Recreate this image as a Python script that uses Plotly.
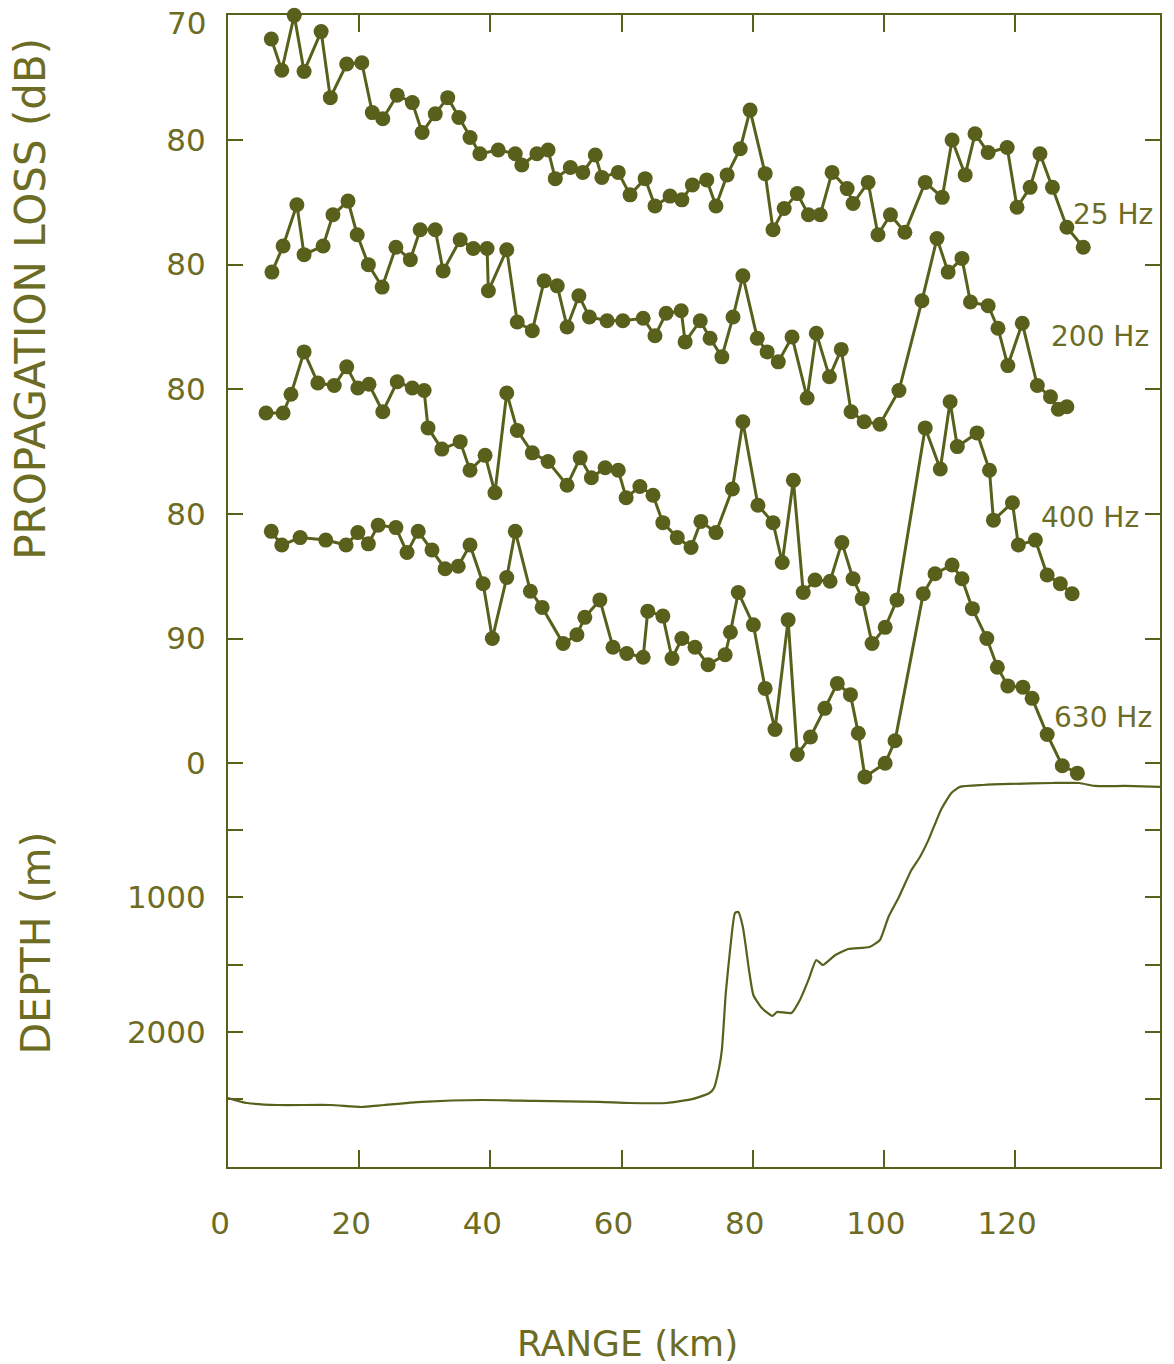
import plotly.graph_objects as go

# ---------------- data ----------------
range_25 = [6.6, 8.2, 10.1, 11.6, 14.2, 15.6, 18.1, 20.4, 22.0, 23.6, 25.8, 28.1, 29.6, 31.6, 33.5, 35.2,
            36.9, 38.4, 41.2, 43.8, 44.8, 47.1, 48.8, 49.9, 52.2, 54.1, 56.0, 57.0, 59.5, 61.3, 63.6, 65.1,
            67.4, 69.2, 70.8, 73.0, 74.4, 76.1, 78.1, 79.6, 81.9, 83.1, 84.8, 86.8, 88.5, 90.3, 92.1, 94.4,
            95.3, 97.6, 99.1, 101.0, 103.2, 106.3, 108.9, 110.4, 112.4, 113.9, 115.9, 118.8, 120.3, 122.3,
            123.8, 125.7, 127.9, 130.4]
loss_25 = [71.9, 74.4, 70.0, 74.5, 71.3, 76.6, 73.9, 73.8, 77.8, 78.3, 76.4, 77.0, 79.4, 77.9, 76.6, 78.2,
           79.8, 81.1, 80.8, 81.1, 82.0, 81.1, 80.8, 83.1, 82.2, 82.6, 81.2, 83.0, 82.6, 84.4, 83.1, 85.3,
           84.5, 84.8, 83.6, 83.2, 85.3, 82.8, 80.7, 77.6, 82.7, 87.2, 85.5, 84.3, 86.0, 86.0, 82.6, 83.9,
           85.1, 83.4, 87.6, 86.0, 87.4, 83.4, 84.6, 80.0, 82.8, 79.5, 81.0, 80.6, 85.4, 83.8, 81.1, 83.8,
           87.0, 88.6]

range_200 = [6.7, 8.4, 10.5, 11.6, 14.5, 16.0, 18.3, 19.7, 21.4, 23.5, 25.6, 27.8, 29.3, 31.6, 32.8, 35.4,
             37.4, 39.5, 39.7, 42.5, 44.1, 46.4, 48.2, 50.2, 51.7, 53.5, 55.1, 57.8, 60.2, 63.3, 65.1, 66.8,
             69.1, 69.7, 72.0, 73.5, 75.3, 77.0, 78.5, 80.7, 82.2, 83.9, 86.0, 88.3, 89.7, 91.7, 93.5, 95.0,
             97.0, 99.4, 102.3, 105.8, 108.1, 109.8, 111.9, 113.2, 115.9, 117.4, 118.9, 121.1, 123.4, 125.4,
             126.6, 127.9]
loss_200 = [80.6, 78.5, 75.2, 79.2, 78.5, 76.0, 74.9, 77.6, 80.0, 81.8, 78.6, 79.6, 77.2, 77.2, 80.5, 78.0,
            78.7, 78.7, 82.1, 78.8, 84.6, 85.3, 81.3, 81.7, 85.0, 82.5, 84.2, 84.5, 84.5, 84.3, 85.7, 83.9,
            83.7, 86.2, 84.5, 85.9, 87.4, 84.2, 80.9, 85.9, 87.0, 87.8, 85.8, 90.7, 85.5, 89.0, 86.8, 91.8,
            92.6, 92.8, 90.1, 82.9, 77.9, 80.6, 79.5, 83.0, 83.3, 85.1, 88.1, 84.7, 89.7, 90.6, 91.6, 91.4]

range_400 = [5.8, 8.4, 9.6, 11.6, 13.7, 16.2, 18.1, 19.8, 21.5, 23.6, 25.8, 28.1, 29.9, 30.5, 32.6, 35.4,
             36.9, 39.2, 40.7, 42.5, 44.1, 46.4, 48.8, 51.7, 53.7, 55.4, 57.5, 59.5, 60.7, 62.8, 64.8, 66.3,
             68.5, 70.6, 72.1, 74.4, 76.9, 78.5, 80.8, 83.1, 84.5, 86.2, 87.7, 89.5, 91.8, 93.6, 95.3, 96.7,
             98.2, 100.2, 102.0, 106.3, 108.6, 110.1, 111.2, 114.2, 116.1, 116.7, 119.6, 120.5, 123.1, 124.9,
             126.9, 128.7]
loss_400 = [81.9, 81.9, 80.4, 77.0, 79.5, 79.7, 78.2, 79.9, 79.6, 81.8, 79.4, 79.9, 80.1, 83.1, 84.8, 84.2,
            86.5, 85.3, 88.3, 80.3, 83.3, 85.1, 85.8, 87.7, 85.5, 87.1, 86.3, 86.5, 88.7, 87.8, 88.5, 90.7,
            91.9, 92.7, 90.6, 91.5, 88.0, 82.6, 89.3, 90.7, 93.9, 87.3, 96.3, 95.3, 95.4, 92.3, 95.2, 96.8,
            100.4, 99.1, 96.9, 83.1, 86.4, 81.0, 84.6, 83.5, 86.5, 90.5, 89.1, 92.5, 92.1, 94.9, 95.6, 96.4]

range_630 = [6.6, 8.2, 11.0, 14.9, 18.0, 19.8, 21.4, 22.9, 25.6, 27.3, 29.0, 31.1, 33.1, 35.1, 36.9, 38.9,
             40.3, 42.5, 43.8, 46.1, 47.9, 51.1, 53.2, 54.4, 56.7, 58.7, 60.8, 63.3, 64.0, 66.3, 67.7, 69.2,
             71.2, 73.2, 75.8, 76.6, 77.8, 80.1, 81.9, 83.4, 85.4, 86.8, 88.8, 91.0, 92.9, 94.9, 96.1, 97.1,
             100.2, 101.7, 106.0, 107.8, 110.4, 111.9, 113.5, 115.7, 117.3, 118.9, 121.2, 122.6, 124.9,
             127.2, 129.5]
loss_630 = [81.4, 82.5, 81.9, 82.1, 82.5, 81.5, 82.4, 80.9, 81.1, 83.1, 81.4, 82.9, 84.4, 84.2, 82.5, 85.6,
            90.0, 85.1, 81.4, 86.2, 87.5, 90.4, 89.7, 88.3, 86.9, 90.7, 91.2, 91.5, 87.8, 88.2, 91.6, 90.0,
            90.7, 92.1, 91.3, 89.5, 86.3, 88.9, 94.0, 97.3, 88.5, 99.3, 97.9, 95.6, 93.6, 94.5, 97.6, 101.1,
            100.0, 98.2, 86.4, 84.8, 84.1, 85.2, 87.6, 90.0, 92.3, 93.8, 93.9, 94.8, 97.7, 100.2, 100.8]

depth_range = [0, 2.9, 7.5, 15.6, 20.3, 23.8, 29.6, 38.7, 46.8, 56.6, 61.2, 66.9, 70.9, 73.4, 74.1, 74.9,
               75.3, 75.9, 76.6, 77.3, 77.8, 78.5, 79.5, 80.1, 81.4, 83.0, 83.7, 85.9, 87.2, 88.5, 89.7, 90.7,
               92.6, 94.6, 97.8, 99.4, 100.7, 102.3, 104.2, 105.5, 106.8, 108.7, 110.3, 111.6, 115.1, 119.3,
               125.7, 129.8, 132.1, 136.8, 142.1]
depth_m = [2491, 2528, 2543, 2543, 2558, 2543, 2520, 2506, 2513, 2520, 2528, 2528, 2498, 2454, 2416, 2260,
           2134, 1710, 1368, 1115, 1108, 1219, 1561, 1725, 1822, 1881, 1851, 1859, 1762, 1613, 1465, 1502,
           1428, 1383, 1368, 1316, 1145, 996, 796, 699, 572, 349, 223, 178, 164, 156, 149, 149, 171, 171, 178]

freq_labels = ["25 Hz", "200 Hz", "400 Hz", "630 Hz"]
# vertical offsets (dB) used to stack the four curves
offsets = [0, 10, 20, 30]

top_label = "70"
loss_tickvals = [70, 80, 90, 100, 110, 120]
loss_ticktext = ["", "80", "80", "80", "80", "90"]
depth_tickvals = [0, 500, 1000, 1500, 2000, 2500]
depth_ticktext = ["0", "", "1000", "", "2000", ""]
range_tickvals = [0, 20, 40, 60, 80, 100, 120]
range_ticktext = ["0", "20", "40", "60", "80", "100", "120"]

# ---------------- style ----------------
INK = "#58601c"
TEXT = "#6d6c24"
FONT = "DejaVu Sans"

fig = go.Figure()

series = [(range_25, loss_25), (range_200, loss_200), (range_400, loss_400), (range_630, loss_630)]
for (xs, ys), off, name in zip(series, offsets, freq_labels):
    fig.add_trace(go.Scatter(
        x=xs, y=[v + off for v in ys], mode="lines+markers", name=name,
        line=dict(color=INK, width=3),
        marker=dict(color=INK, size=15),
        cliponaxis=False, yaxis="y", showlegend=False))

fig.add_trace(go.Scatter(
    x=depth_range, y=depth_m, mode="lines", name="depth",
    line=dict(color=INK, width=2.2, shape="spline", smoothing=0.5),
    yaxis="y2", showlegend=False))

# label positions (km, stacked dB)
label_pos = [(135.0, 86.0), (133.0, 95.8), (131.5, 110.3), (133.4, 126.3)]
for (lx, ly), txt in zip(label_pos, freq_labels):
    fig.add_annotation(x=lx, y=ly, xref="x", yref="y", text=txt, showarrow=False,
                       xanchor="center", yanchor="middle",
                       font=dict(family=FONT, size=28, color=TEXT))

# "70" label at the top corner, nudged down slightly so it stays on the page
fig.add_annotation(x=-0.0215, y=0.993, xref="paper", yref="paper", text=top_label,
                   showarrow=False, xanchor="right", yanchor="middle",
                   font=dict(family=FONT, size=31, color=TEXT))

fig.add_annotation(x=-0.212, y=0.754, xref="paper", yref="paper", text="PROPAGATION LOSS (dB)",
                   textangle=-90, showarrow=False, xanchor="center", yanchor="middle",
                   font=dict(family=FONT, size=42, color=TEXT))
fig.add_annotation(x=-0.207, y=0.194, xref="paper", yref="paper", text="DEPTH (m)",
                   textangle=-90, showarrow=False, xanchor="center", yanchor="middle",
                   font=dict(family=FONT, size=41, color=TEXT))
fig.add_annotation(x=0.429, y=-0.153, xref="paper", yref="paper", text="RANGE (km)",
                   showarrow=False, xanchor="center", yanchor="middle",
                   font=dict(family=FONT, size=36, color=TEXT))

axis_common = dict(showline=True, linecolor=INK, linewidth=2, ticks="inside", tickcolor=INK,
                   tickwidth=2, showgrid=False, zeroline=False, mirror="ticks",
                   automargin=False,
                   tickfont=dict(family=FONT, size=31, color=TEXT))

fig.update_layout(
    width=1174, height=1364,
    margin=dict(l=228, r=14, t=15, b=197, autoexpand=False),
    paper_bgcolor="white", plot_bgcolor="white",
    xaxis=dict(range=[0, 142.1], tickvals=range_tickvals, ticktext=range_ticktext,
               ticklen=17, ticklabelstandoff=28, ticklabelshift=-8, **axis_common),
    yaxis=dict(range=[162.4, 69.97], tickvals=loss_tickvals, ticktext=loss_ticktext,
               ticklen=15, ticklabelstandoff=14, **axis_common),
    yaxis2=dict(range=[3004, -5561], tickvals=depth_tickvals, ticktext=depth_ticktext,
                overlaying="y", side="left", anchor="x",
                ticklen=15, ticklabelstandoff=14, **axis_common),
)

fig.write_html("out.html")
